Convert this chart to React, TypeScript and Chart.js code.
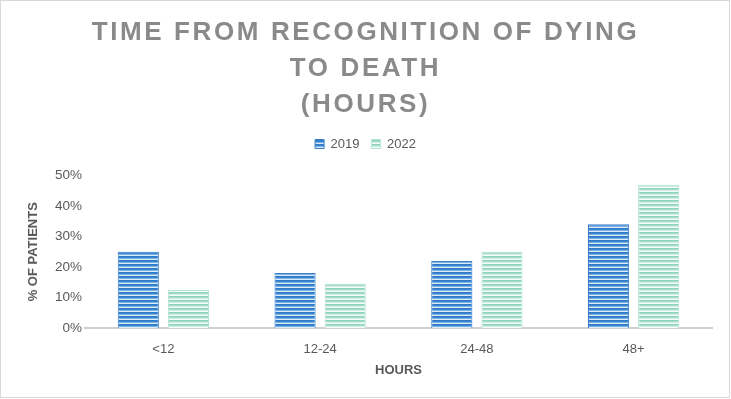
import React, { useEffect, useRef } from 'react';
import { Chart, registerables } from 'chart.js';

Chart.register(...registerables);

const titleLines = ['TIME FROM RECOGNITION OF DYING', 'TO DEATH', '(HOURS)'];
const categories = ['<12', '12-24', '24-48', '48+'];
const seriesNames = ['2019', '2022'];
const values2019 = [25, 18, 22, 34];
const values2022 = [12.5, 14.5, 25, 47];
const yTickValues = [0, 10, 20, 30, 40, 50];
const xAxisTitle = 'HOURS';
const yAxisTitle = '% OF PATIENTS';

const FONT = '"Liberation Sans", Arial, Helvetica, sans-serif';

function makePattern(rows: string[]): CanvasPattern | string {
  const c = document.createElement('canvas');
  c.width = 2;
  c.height = rows.length;
  const x = c.getContext('2d');
  if (!x) return rows[0];
  rows.forEach((r, i) => {
    x.fillStyle = r;
    x.fillRect(0, i, 2, 1);
  });
  return x.createPattern(c, 'repeat') || rows[0];
}

const tweaks = {
  id: 'tweaks',
  beforeInit(chart: any) {
    const t = chart.titleBlock;
    if (t) {
      const d = t.draw;
      t.draw = function (...a: any[]) {
        const ctx = this.ctx;
        ctx.save();
        ctx.letterSpacing = '2.6px';
        d.apply(this, a);
        ctx.restore();
      };
    }
    const lg = chart.legend;
    if (lg) {
      const f = lg.fit;
      lg.fit = function (...a: any[]) {
        f.apply(this, a);
        this.height += 15;
      };
    }
  },
  afterDraw(chart: any) {
    const ctx = chart.ctx;
    ctx.save();
    ctx.strokeStyle = '#d9d9d9';
    ctx.lineWidth = 1;
    ctx.strokeRect(0.5, 0.5, chart.width - 2, chart.height - 2);
    ctx.restore();
  },
};

export default function App() {
  const ref = useRef<HTMLCanvasElement | null>(null);

  useEffect(() => {
    document.body.style.margin = '0';
    const canvas = ref.current;
    if (!canvas) return;
    const blue = makePattern(['#2f7bc9', '#3a85d0', '#7fb2e4', '#dbeaf8']);
    const green = makePattern(['#8fd5be', '#a3ddca', '#d2efe5', '#f4fbf8']);

    const chart = new Chart(canvas, {
      type: 'bar',
      data: {
        labels: categories,
        datasets: [
          {
            label: seriesNames[0],
            data: values2019,
            backgroundColor: blue as any,
            borderColor: '#3a7fc6',
            borderWidth: 1,
            categoryPercentage: 0.64,
            barPercentage: 0.82,
          },
          {
            label: seriesNames[1],
            data: values2022,
            backgroundColor: green as any,
            borderColor: '#b3e3d3',
            borderWidth: 1,
            categoryPercentage: 0.64,
            barPercentage: 0.82,
          },
        ],
      },
      options: {
        responsive: false,
        animation: false,
        layout: { padding: 0 },
        font: { family: FONT },
        plugins: {
          title: {
            display: true,
            text: titleLines,
            color: '#8a8a8a',
            font: { family: FONT, size: 26, weight: 'bold', lineHeight: 36 / 26 },
            padding: { top: 15, bottom: 2.5 },
          },
          legend: {
            display: true,
            position: 'top',
            labels: {
              boxWidth: 9,
              boxHeight: 9,
              padding: 12,
              color: '#595959',
              font: { family: FONT, size: 13 },
            },
          },
          tooltip: { enabled: false },
        },
        scales: {
          x: {
            grid: { display: false, drawTicks: false },
            border: { display: true, color: '#d0d0d0', width: 2 },
            ticks: { color: '#595959', font: { family: FONT, size: 13 }, padding: 14 },
            title: {
              display: true,
              text: xAxisTitle,
              color: '#595959',
              font: { family: FONT, size: 13, weight: 'bold' },
              padding: { top: 0, bottom: 21 },
            },
            afterFit(s: any) {
              s.height = 71;
            },
          },
          y: {
            min: 0,
            max: 50,
            grid: { display: false, drawTicks: false },
            border: { display: false },
            afterBuildTicks(s: any) {
              s.ticks = yTickValues.map((v) => ({ value: v }));
            },
            ticks: {
              color: '#595959',
              font: { family: FONT, size: 13.5 },
              padding: 3,
              callback: (v: any) => v + '%',
            },
            title: {
              display: true,
              text: yAxisTitle,
              color: '#595959',
              font: { family: FONT, size: 13, weight: 'bold' },
              padding: { top: 26, bottom: 0 },
            },
            afterFit(s: any) {
              s.width = 85;
            },
          },
          y2: {
            type: 'linear',
            position: 'right',
            display: true,
            grid: { display: false, drawTicks: false },
            border: { display: false },
            ticks: { display: false },
            afterFit(s: any) {
              s.width = 19;
            },
          },
        },
      } as any,
      plugins: [tweaks],
    });
    return () => chart.destroy();
  }, []);

  return (
    <div style={{ width: 731, height: 399, background: '#ffffff' }}>
      <canvas ref={ref} width={731} height={399} style={{ display: 'block' }} />
    </div>
  );
}
